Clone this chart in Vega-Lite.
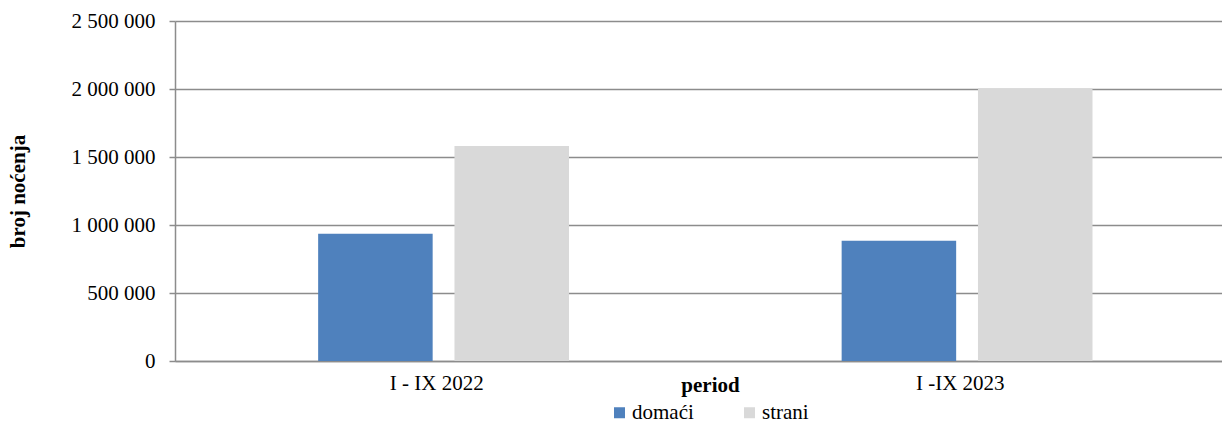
{
  "$schema": "https://vega.github.io/schema/vega-lite/v6.json",
  "width": 1047,
  "height": 340,
  "autosize": {"type": "none"},
  "padding": {"left": 175, "top": 21, "right": 0, "bottom": 69},
  "background": "white",
  "config": {
    "view": {"stroke": null},
    "font": "Liberation Serif",
    "axis": {"labelFont": "Liberation Serif", "titleFont": "Liberation Serif"},
    "legend": {"labelFont": "Liberation Serif", "titleFont": "Liberation Serif"}
  },
  "data": {
    "values": [
      {"period": "I - IX 2022", "tip": "domaći", "nocenja": 935000},
      {"period": "I - IX 2022", "tip": "strani", "nocenja": 1581000},
      {"period": "I -IX 2023", "tip": "domaći", "nocenja": 884000},
      {"period": "I -IX 2023", "tip": "strani", "nocenja": 2006000}
    ]
  },
  "mark": {"type": "bar"},
  "encoding": {
    "x": {
      "field": "period",
      "type": "nominal",
      "sort": null,
      "scale": {"paddingInner": 0, "paddingOuter": 0},
      "axis": {
        "title": "period",
        "titleFontSize": 21,
        "titleFontWeight": "bold",
        "titleColor": "black",
        "titleX": 535,
        "titleY": 24,
        "titleBaseline": "middle",
        "labelAngle": 0,
        "labelFontSize": 21,
        "labelColor": "black",
        "labelPadding": 11,
        "ticks": false,
        "domainColor": "#8c8c8c",
        "domainWidth": 1.5
      }
    },
    "xOffset": {
      "field": "tip",
      "type": "nominal",
      "scale": {"paddingInner": 0.16, "paddingOuter": 1.03, "align": 0.525}
    },
    "y": {
      "field": "nocenja",
      "type": "quantitative",
      "scale": {"domain": [0, 2500000], "nice": false},
      "axis": {
        "title": "broj noćenja",
        "titleFontSize": 21,
        "titleFontWeight": "bold",
        "titleColor": "black",
        "titleX": -157,
        "titleY": 170,
        "titleAngle": -90,
        "titleAlign": "center",
        "titleBaseline": "middle",
        "values": [0, 500000, 1000000, 1500000, 2000000, 2500000],
        "labelExpr": "replace(format(datum.value, ',d'), /,/g, ' ')",
        "labelFontSize": 21,
        "labelColor": "black",
        "labelPadding": 14,
        "tickSize": 6,
        "tickColor": "#8c8c8c",
        "tickWidth": 1.5,
        "domainColor": "#8c8c8c",
        "domainWidth": 1.5,
        "grid": true,
        "gridColor": "#8c8c8c",
        "gridWidth": 1.5
      }
    },
    "color": {
      "field": "tip",
      "type": "nominal",
      "scale": {"domain": ["domaći", "strani"], "range": ["#4F81BD", "#D9D9D9"]},
      "legend": {
        "title": null,
        "orient": "none",
        "legendX": 434,
        "legendY": 381,
        "direction": "horizontal",
        "symbolType": "square",
        "symbolSize": 121,
        "symbolStrokeWidth": 0,
        "labelFont": "Liberation Serif",
        "labelFontSize": 21,
        "labelColor": "black",
        "labelOffset": 2,
        "columnPadding": 45
      }
    }
  }
}
